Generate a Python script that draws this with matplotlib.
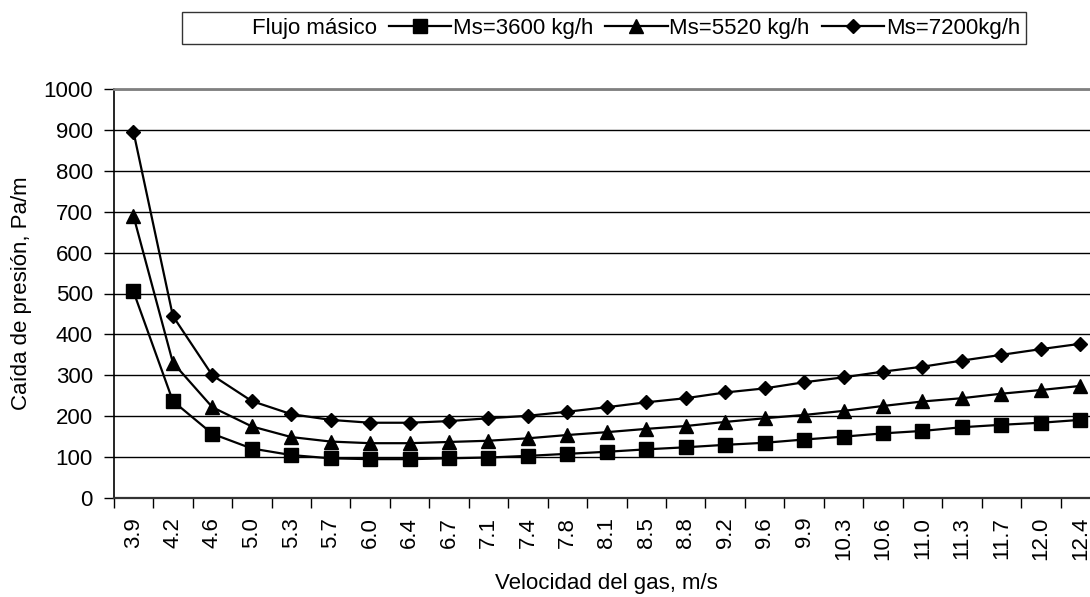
import matplotlib
matplotlib.use("Agg")
import matplotlib.pyplot as plt
from matplotlib.lines import Line2D

velocidad = ["3.9", "4.2", "4.6", "5.0", "5.3", "5.7", "6.0", "6.4", "6.7", "7.1",
             "7.4", "7.8", "8.1", "8.5", "8.8", "9.2", "9.6", "9.9", "10.3", "10.6",
             "11.0", "11.3", "11.7", "12.0", "12.4"]
ms_3600 = [505, 237, 157, 121, 105, 97, 95, 95, 97, 99, 103, 108, 113, 119, 124,
           130, 135, 143, 150, 158, 164, 173, 179, 184, 191]
ms_5520 = [690, 331, 222, 175, 149, 138, 134, 134, 137, 140, 146, 154, 161, 169, 176,
           186, 195, 203, 213, 225, 236, 244, 255, 264, 274]
ms_7200 = [896, 445, 300, 237, 205, 191, 184, 184, 188, 195, 201, 211, 222, 234, 244,
           258, 268, 283, 295, 309, 321, 336, 350, 364, 377]
labels = ["Ms=3600 kg/h", "Ms=5520 kg/h", "Ms=7200kg/h"]
legend_title = "Flujo másico"
y_ticks = list(range(0, 1001, 100))

plt.rcParams['font.family'] = ['Liberation Sans', 'DejaVu Sans']
FS = 16

W, H = 1090, 597
fig = plt.figure(figsize=(W / 100, H / 100), dpi=100)
ax = fig.add_axes([113.7 / W, 1 - 498 / H, (1100 - 113.7) / W, (498 - 89) / H])

x = list(range(len(velocidad)))
styles = [('s', 10), ('^', 10), ('D', 7)]
handles = []
for vals, lab, (m, ms) in zip([ms_3600, ms_5520, ms_7200], labels, styles):
    h, = ax.plot(x, vals, color='black', lw=1.6, marker=m, markersize=ms,
                 markerfacecolor='black', markeredgecolor='black', label=lab,
                 clip_on=False, zorder=3)
    handles.append(h)

ax.set_xlim(-0.5, len(velocidad) - 0.5)
ax.set_ylim(0, 1000)
ax.set_yticks(y_ticks)
ax.set_yticklabels([str(v) for v in y_ticks], fontsize=FS)
ax.yaxis.grid(True, color='black', lw=1.0)
ax.set_axisbelow(True)

# category separators as major ticks, labels at centers on minor ticks
ax.set_xticks([i - 0.5 for i in range(len(velocidad) + 1)])
ax.set_xticklabels([''] * (len(velocidad) + 1))
ax.set_xticks(x, minor=True)
ax.set_xticklabels(velocidad, minor=True, rotation=90, fontsize=FS)
ax.tick_params(axis='x', which='major', length=7, width=1, color='black', direction='out')
ax.tick_params(axis='x', which='minor', length=0, pad=13.5)
ax.tick_params(axis='y', length=7, width=1, color='black', direction='out', pad=8)

for s in ['right']:
    ax.spines[s].set_visible(False)
ax.spines['top'].set_color('#808080')
ax.spines['top'].set_linewidth(2)
ax.spines['left'].set_color('black')
ax.spines['left'].set_linewidth(1.2)
ax.spines['bottom'].set_color('#333333')
ax.spines['bottom'].set_linewidth(1.6)

fig.text(21.7 / W, 1 - 293.5 / H, "Caída de presión, Pa/m", rotation=90,
         ha='center', va='center', fontsize=FS)
fig.text(606 / W, 1 - 583 / H, "Velocidad del gas, m/s", ha='center', va='center',
         fontsize=FS)

blank = Line2D([], [], linestyle='none', marker=None)
leg = fig.legend([blank] + handles, [legend_title] + labels, ncol=4,
                 loc='upper left', bbox_to_anchor=(182 / W, 1 - 12 / H),
                 bbox_transform=fig.transFigure, borderaxespad=0,
                 fontsize=FS, frameon=True, fancybox=False, shadow=False,
                 handlelength=2.8, handletextpad=0.08, columnspacing=0.55,
                 borderpad=0.25, markerscale=1.0)
leg.get_frame().set_edgecolor('black')
leg.get_frame().set_linewidth(1.0)

fig.savefig("out.png", dpi=100)
